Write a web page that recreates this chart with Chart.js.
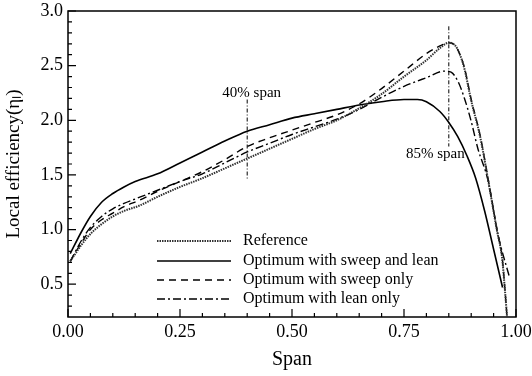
<!DOCTYPE html>
<html>
<head>
<meta charset="utf-8">
<script src="https://cdn.jsdelivr.net/npm/chart.js@4.4.1/dist/chart.umd.min.js"></script>
<style>
  html, body { margin: 0; padding: 0; background: #fff; }
  #wrap { width: 532px; height: 376px; }
</style>
</head>
<body>
<div id="wrap"><canvas id="grafico" width="532" height="376"></canvas></div>
<script>
// tick values
const xTicks = [0, 0.25, 0.5, 0.75, 1.0];
const yTicks = [0.5, 1.0, 1.5, 2.0, 2.5, 3.0];

// Reference
const refX = [0.005, 0.03, 0.05, 0.075, 0.1, 0.125, 0.16, 0.2, 0.25, 0.3, 0.35, 0.4, 0.45, 0.5, 0.55, 0.6, 0.65, 0.7, 0.75, 0.8, 0.83, 0.85, 0.865, 0.875, 0.885, 0.9, 0.92, 0.9375, 0.958, 0.969, 0.975, 0.98];
const refY = [0.71, 0.86, 0.96, 1.05, 1.12, 1.17, 1.22, 1.30, 1.39, 1.47, 1.56, 1.65, 1.74, 1.83, 1.92, 2.00, 2.11, 2.24, 2.40, 2.55, 2.66, 2.71, 2.68, 2.60, 2.47, 2.18, 1.85, 1.46, 0.98, 0.74, 0.46, 0.20];

// Optimum with sweep and lean
const sweepLeanX = [0.005, 0.03, 0.05, 0.075, 0.1, 0.125, 0.15, 0.2, 0.25, 0.3, 0.35, 0.4, 0.45, 0.5, 0.55, 0.6, 0.65, 0.7, 0.75, 0.78, 0.8, 0.83, 0.85, 0.87, 0.89, 0.91, 0.93, 0.95, 0.97];
const sweepLeanY = [0.78, 0.98, 1.12, 1.25, 1.33, 1.39, 1.44, 1.51, 1.61, 1.71, 1.81, 1.90, 1.96, 2.02, 2.06, 2.10, 2.14, 2.17, 2.19, 2.19, 2.17, 2.08, 1.98, 1.85, 1.68, 1.47, 1.17, 0.82, 0.47];

// Optimum with sweep only
const sweepX = [0.005, 0.03, 0.05, 0.075, 0.1, 0.125, 0.16, 0.2, 0.25, 0.3, 0.35, 0.4, 0.45, 0.5, 0.55, 0.6, 0.65, 0.7, 0.75, 0.8, 0.83, 0.85, 0.865, 0.875, 0.885, 0.9, 0.92, 0.9375, 0.958, 0.969, 0.975, 0.98];
const sweepY = [0.71, 0.88, 1.00, 1.09, 1.15, 1.21, 1.27, 1.35, 1.44, 1.53, 1.64, 1.76, 1.84, 1.91, 1.98, 2.05, 2.15, 2.29, 2.45, 2.61, 2.68, 2.71, 2.68, 2.60, 2.48, 2.19, 1.86, 1.47, 0.99, 0.75, 0.47, 0.20];

// Optimum with lean only
const leanX = [0.005, 0.03, 0.05, 0.075, 0.1, 0.125, 0.15, 0.2, 0.25, 0.3, 0.35, 0.4, 0.45, 0.5, 0.55, 0.6, 0.65, 0.7, 0.75, 0.8, 0.84, 0.855, 0.87, 0.885, 0.9, 0.915, 0.9375, 0.96, 0.985];
const leanY = [0.71, 0.90, 1.02, 1.12, 1.19, 1.24, 1.28, 1.36, 1.44, 1.51, 1.61, 1.71, 1.79, 1.87, 1.94, 2.01, 2.10, 2.21, 2.31, 2.39, 2.45, 2.44, 2.36, 2.20, 1.99, 1.74, 1.45, 0.95, 0.57];

// span markers
const mark40X = [0.4, 0.4];
const mark40Y = [2.19, 1.45];
const mark85X = [0.85, 0.85];
const mark85Y = [2.86, 1.76];

const pts = (xs, ys) => xs.map((x, i) => ({ x: x, y: ys[i] }));
const serif = "'Liberation Serif', 'Times New Roman', serif";

const series = [
  { label: 'Reference', x: refX, y: refY, width: 2, dash: [1.5, 1], color: '#333' },
  { label: 'Optimum with sweep and lean', x: sweepLeanX, y: sweepLeanY, width: 1.6, dash: [], color: '#000' },
  { label: 'Optimum with sweep only', x: sweepX, y: sweepY, width: 1.4, dash: [7, 5], color: '#000' },
  { label: 'Optimum with lean only', x: leanX, y: leanY, width: 1.4, dash: [8, 3, 2, 3], color: '#000' },
];

const datasets = series.map(s => ({
  label: s.label,
  data: pts(s.x, s.y),
  borderColor: s.color,
  borderWidth: s.width,
  borderDash: s.dash,
  pointRadius: 0,
  fill: false,
  cubicInterpolationMode: 'monotone',
}));

[[mark40X, mark40Y], [mark85X, mark85Y]].forEach(([xs, ys]) => {
  datasets.push({
    label: '',
    data: pts(xs, ys),
    borderColor: '#000',
    borderWidth: 1,
    borderDash: [4, 2, 1, 2],
    pointRadius: 0,
    fill: false,
  });
});

// box, inward ticks, span labels and legend
const decor = {
  id: 'decor',
  afterDraw(chart) {
    const ctx = chart.ctx;
    const a = chart.chartArea;
    const xs = chart.scales.x, ys = chart.scales.y;
    ctx.save();
    ctx.strokeStyle = '#000';
    ctx.setLineDash([]);

    ctx.lineWidth = 1.5;
    ctx.strokeRect(a.left, a.top, a.right - a.left, a.bottom - a.top);

    ctx.lineWidth = 1.2;
    ctx.beginPath();
    for (let i = 0; i <= 20; i++) {
      const v = i * 0.05;
      const px = xs.getPixelForValue(v);
      const len = i % 5 === 0 ? 8 : 4;
      ctx.moveTo(px, a.bottom);
      ctx.lineTo(px, a.bottom - len);
    }
    for (let i = 3; i <= 30; i++) {
      const v = i * 0.1;
      const py = ys.getPixelForValue(v);
      const len = i % 5 === 0 ? 8 : 4;
      ctx.moveTo(a.left, py);
      ctx.lineTo(a.left + len, py);
    }
    ctx.stroke();

    ctx.fillStyle = '#000';
    ctx.font = '15px ' + serif;
    ctx.textAlign = 'center';
    ctx.textBaseline = 'middle';
    ctx.fillText('40% span', xs.getPixelForValue(0.41), ys.getPixelForValue(2.25));
    ctx.fillText('85% span', xs.getPixelForValue(0.82), ys.getPixelForValue(1.69));

    // legend
    ctx.font = '16px ' + serif;
    ctx.textAlign = 'left';
    const rows = [241, 261, 280, 299];
    series.forEach((s, i) => {
      ctx.strokeStyle = s.color;
      ctx.lineWidth = s.width;
      ctx.setLineDash(s.dash);
      ctx.beginPath();
      ctx.moveTo(157, rows[i]);
      ctx.lineTo(231, rows[i]);
      ctx.stroke();
      ctx.fillText(s.label, 243, rows[i]);
    });
    ctx.restore();
  }
};

new Chart(document.getElementById('grafico').getContext('2d'), {
  type: 'line',
  data: { datasets: datasets },
  options: {
    responsive: false,
    animation: false,
    layout: { padding: { top: 11, right: 16, left: 0, bottom: 0 } },
    plugins: { legend: { display: false }, tooltip: { enabled: false } },
    scales: {
      x: {
        type: 'linear',
        min: 0,
        max: 1,
        afterBuildTicks: scale => { scale.ticks = xTicks.map(v => ({ value: v })); },
        afterFit: scale => { scale.height = 59; scale.paddingLeft = 0; scale.paddingRight = 0; },
        grid: { display: false, drawTicks: false },
        border: { display: false },
        ticks: {
          padding: 4,
          color: '#000',
          font: { family: serif, size: 18 },
          maxRotation: 0,
          callback: v => v.toFixed(2),
        },
        title: {
          display: true,
          text: 'Span',
          color: '#000',
          font: { family: serif, size: 20 },
          padding: { top: 0, bottom: 4 },
        },
      },
      y: {
        type: 'linear',
        min: 0.2,
        max: 3.0,
        afterBuildTicks: scale => { scale.ticks = yTicks.map(v => ({ value: v })); },
        afterFit: scale => { scale.width = 68; scale.paddingTop = 0; scale.paddingBottom = 0; },
        grid: { display: false, drawTicks: false },
        border: { display: false },
        ticks: {
          padding: 5,
          color: '#000',
          font: { family: serif, size: 18 },
          callback: v => v.toFixed(1),
        },
        title: {
          display: true,
          text: 'Local efficiency(η\u2097)',
          color: '#000',
          font: { family: serif, size: 19 },
          padding: { top: 3, bottom: 0 },
        },
      },
    },
  },
  plugins: [decor],
});
</script>
</body>
</html>
